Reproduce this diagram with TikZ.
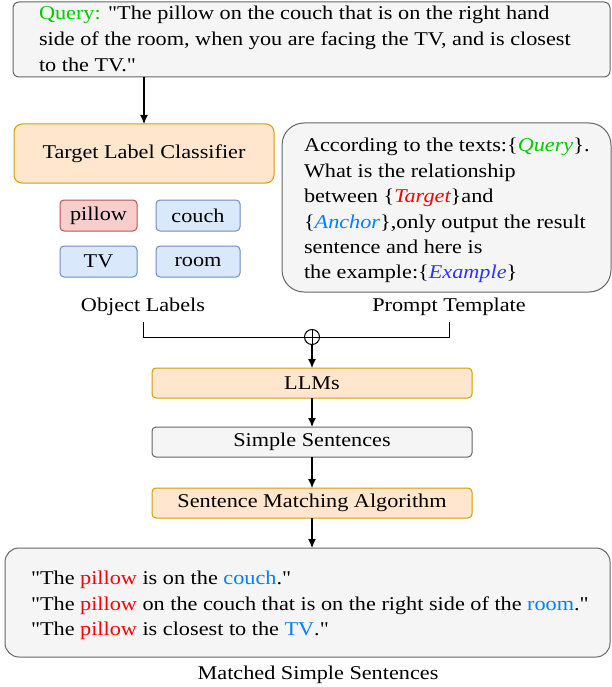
\documentclass[tikz,border=0pt]{standalone}
\usepackage{fontspec}
\setmainfont[FakeStretch=1.14, Ligatures=TeXOff]{Liberation Serif}
\usetikzlibrary{arrows.meta}
\newcommand\dq{\symbol{34}}
\definecolor{qgreen}{HTML}{00CC00}
\definecolor{tred}{HTML}{FF0000}
\definecolor{ablue}{HTML}{007FFF}
\definecolor{eblue}{HTML}{3333FF}
\definecolor{grayfill}{HTML}{F5F5F5}
\definecolor{graydraw}{HTML}{666666}
\definecolor{orfill}{HTML}{FFE6CC}
\definecolor{ordraw}{HTML}{D79B00}
\definecolor{rfill}{HTML}{F8CECC}
\definecolor{rdraw}{HTML}{B85450}
\definecolor{bfill}{HTML}{DAE8FC}
\definecolor{bdraw}{HTML}{6C8EBF}
\tikzset{
  box/.style={draw, line width=1pt, rounded corners=6, inner sep=0, outer sep=0},
  graybox/.style={box, fill=grayfill, draw=graydraw},
  orbox/.style={box, fill=orfill, draw=ordraw},
  redbox/.style={box, fill=rfill, draw=rdraw, rounded corners=4},
  bluebox/.style={box, fill=bfill, draw=bdraw, rounded corners=4},
  txt/.style={inner sep=0, outer sep=0, font=\fontsize{19.5}{23}\selectfont},
  ln/.style={txt, anchor=base west},
  arr/.style={line width=1.2pt, -{Latex[length=9,width=8]}},
}
\begin{document}
\begin{tikzpicture}[x=1pt,y=-1pt]
\useasboundingbox (0,0) rectangle (611,687);
% query box
\node[graybox, minimum width=597, minimum height=75] (q) at (311.5,39.5) {};
\node[ln] (q1) at (39,20) {\textcolor{qgreen}{Query:} \dq The pillow on the couch that is on the right hand};
\node[ln] (q2) at (39,46) {side of the room, when you are facing the TV, and is closest};
\node[ln] (q3) at (39,72) {to the TV.\dq};
% target label classifier
\node[orbox, minimum width=260, minimum height=59, rounded corners=8, txt] (tlc) at (144,153.5) {Target Label Classifier};
\draw[arr] (q.south -| tlc.north) -- (tlc.north);
% labels
\node[redbox, minimum width=77, minimum height=31, txt] (pillow) at (98.5,215.5) {pillow};
\node[bluebox, minimum width=84, minimum height=31, txt] (couch) at (198,215.5) {couch};
\node[bluebox, minimum width=77, minimum height=31, txt] (tv) at (98.5,261.5) {TV};
\node[bluebox, minimum width=84, minimum height=31, txt] (room) at (198,261.5) {room};
\node[txt] (ol) at (143,307) {Object Labels};
% prompt box
\node[graybox, rounded corners=22, minimum width=329, minimum height=169] (pt) at (446.5,207.5) {};
\node[ln] (p1) at (304,152) {According to the texts:\{\textcolor{qgreen}{\itshape Query}\}.};
\node[ln] (p2) at (304,177) {What is the relationship};
\node[ln] (p3) at (304,202.5) {between \{\textcolor{tred}{\itshape Target}\}and};
\node[ln] (p4) at (304,228) {\{\textcolor{ablue}{\itshape Anchor}\},only output the result};
\node[ln] (p5) at (304,253) {sentence and here is};
\node[ln] (p6) at (304,278) {the example:\{\textcolor{eblue}{\itshape Example}\}};
\node[txt] (ptl) at (449,307) {Prompt Template};
% combine
\node[draw, circle, line width=1pt, minimum size=15, inner sep=0] (plus) at (312,337) {};
\draw[line width=1pt] (plus.north) -- (plus.south) (plus.west) -- (plus.east);
\coordinate (olb) at (143,322);
\coordinate (ptb) at (449,322);
\draw[line width=1pt] (olb) |- (plus.west);
\draw[line width=1pt] (ptb) |- (plus.east);
% pipeline
\node[orbox, minimum width=320, minimum height=30, rounded corners=4, txt] (llm) at (312,383) {LLMs};
\node[graybox, minimum width=320, minimum height=30, rounded corners=4, txt] (ss) at (312,442) {Simple Sentences};
\node[orbox, minimum width=320, minimum height=30, rounded corners=4, txt] (sma) at (312,503) {Sentence Matching Algorithm};
\draw[arr] (plus.south) -- (llm.north);
\draw[arr] (llm.south) -- (ss.north);
\draw[arr] (ss.south) -- (sma.north);
% bottom box
\node[graybox, rounded corners=14, minimum width=605, minimum height=109] (m) at (307.5,602.5) {};
\draw[arr] (sma.south) -- (sma.south |- m.north);
\node[ln] (m1) at (31,584) {\dq The \textcolor{tred}{pillow} is on the \textcolor{ablue}{couch}.\dq};
\node[ln] (m2) at (31,610) {\dq The \textcolor{tred}{pillow} on the couch that is on the right side of the \textcolor{ablue}{room}.\dq};
\node[ln] (m3) at (31,635) {\dq The \textcolor{tred}{pillow} is closest to the \textcolor{ablue}{TV}.\dq};
\node[txt] (mss) at (318,675) {Matched Simple Sentences};
\end{tikzpicture}
\end{document}
